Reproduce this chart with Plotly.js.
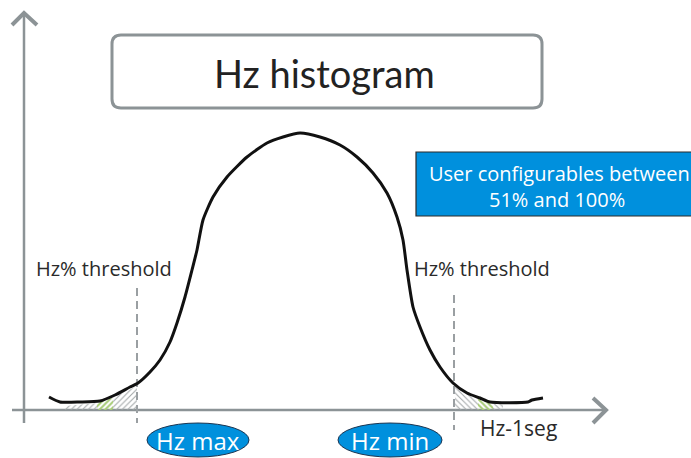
<!DOCTYPE html>
<html>
<head>
<meta charset="utf-8">
<script src="https://cdn.plot.ly/plotly-3.0.1.min.js"></script>
<style>html,body{margin:0;padding:0;background:#fff;}#chart{width:691px;height:458px;}</style>
</head>
<body>
<div id="chart"></div>
<script>
// ---- data (x along the frequency axis, y = height above the baseline) ----
const curveX = [49, 60, 80, 100, 115, 130, 138, 150, 160, 170, 177, 185, 192, 197, 203, 213, 227, 247, 267, 283, 300, 320, 340, 357, 373, 387, 397, 403, 407, 413, 420, 430, 440, 453, 467, 480, 490, 528, 532, 543];
const curveY = [13, 8, 8, 9, 15, 23, 27, 38, 50, 68, 87, 113, 140, 160, 190, 213, 233, 253, 267, 273, 277, 273, 265, 253, 237, 217, 193, 170, 140, 103, 83, 60, 43, 27, 17, 12, 8, 8, 10, 12];
const hatchLeftX = [65, 98, 112, 137, 137, 65];
const hatchLeftY = [4, 7, 12, 24, 0, 0];
const greenLeftX = [97, 113, 113, 97];
const greenLeftY = [8, 12, 0, 0];
const hatchRightX = [455, 455, 467, 480, 503, 503];
const hatchRightY = [0, 26, 16, 11, 5, 0];
const greenRightX = [478, 493, 493, 478];
const greenRightY = [11, 8, 0, 0];
const thresholdX = [137, 454];
const titleText = "Hz histogram";
const thresholdLabel = "Hz% threshold";
const markerLabels = ["Hz max", "Hz min"];
const markerX = [198, 390];
const axisLabel = "Hz-1seg";
const noteLines = ["User configurables between", "51% and 100%"];

// ---- helpers: py is a vertical position measured from the top ----
const BASE = 410;
const Y = py => BASE - py;
const FONT = "Lato, 'Open Sans', sans-serif";
const FONT2 = "'Open Sans', Lato, sans-serif";
const AX = '#8c9396';

function roundRect(x0, y0, x1, y1, r) {
  const a = Y(y0), b = Y(y1), ra = Y(y0 + r), rb = Y(y1 - r);
  return `M${x0 + r},${a} L${x1 - r},${a} Q${x1},${a} ${x1},${ra} L${x1},${rb} Q${x1},${b} ${x1 - r},${b} L${x0 + r},${b} Q${x0},${b} ${x0},${rb} L${x0},${ra} Q${x0},${a} ${x0 + r},${a} Z`;
}

const traces = [
  {x: hatchLeftX, y: hatchLeftY, type: 'scatter', mode: 'none', fill: 'toself',
   fillcolor: 'rgba(0,0,0,0)',
   fillpattern: {shape: '/', fgcolor: '#a0a4a6', bgcolor: 'rgba(255,255,255,0)', size: 4, solidity: 0.25},
   hoverinfo: 'skip'},
  {x: greenLeftX, y: greenLeftY, type: 'scatter', mode: 'none', fill: 'toself',
   fillcolor: 'rgba(0,0,0,0)',
   fillpattern: {shape: '/', fgcolor: '#a8d070', bgcolor: 'rgba(255,255,255,0)', size: 4, solidity: 0.45},
   hoverinfo: 'skip'},
  {x: hatchRightX, y: hatchRightY, type: 'scatter', mode: 'none', fill: 'toself',
   fillcolor: 'rgba(0,0,0,0)',
   fillpattern: {shape: '\\', fgcolor: '#a0a4a6', bgcolor: 'rgba(255,255,255,0)', size: 4, solidity: 0.25},
   hoverinfo: 'skip'},
  {x: greenRightX, y: greenRightY, type: 'scatter', mode: 'none', fill: 'toself',
   fillcolor: 'rgba(0,0,0,0)',
   fillpattern: {shape: '\\', fgcolor: '#a8d070', bgcolor: 'rgba(255,255,255,0)', size: 4, solidity: 0.45},
   hoverinfo: 'skip'},
  {x: curveX, y: curveY, type: 'scatter', mode: 'lines',
   line: {color: '#111', width: 3, shape: 'spline', smoothing: 0.6}, hoverinfo: 'skip'}
];

const shapes = [
  // y axis with arrow head
  {type: 'line', x0: 24, x1: 24, y0: Y(423), y1: Y(14), line: {color: AX, width: 2.5}, layer: 'below'},
  {type: 'path', path: `M12,${Y(25)} L24,${Y(13)} L37,${Y(25)}`, line: {color: AX, width: 4}, layer: 'below'},
  // x axis with arrow head
  {type: 'line', x0: 12, x1: 606, y0: 0, y1: 0, line: {color: AX, width: 2.5}, layer: 'below'},
  {type: 'path', path: `M593,${Y(398)} L606,${Y(410)} L593,${Y(423)}`, line: {color: AX, width: 4}, layer: 'below'},
  // threshold dashed lines
  {type: 'line', x0: thresholdX[0], x1: thresholdX[0], y0: Y(288), y1: Y(423), line: {color: '#9a9fa2', width: 2, dash: '8px,5px'}, layer: 'below'},
  {type: 'line', x0: thresholdX[1], x1: thresholdX[1], y0: Y(295), y1: Y(430), line: {color: '#9a9fa2', width: 2, dash: '8px,5px'}, layer: 'below'},
  // title box
  {type: 'path', path: roundRect(112, 35, 542, 108, 9), line: {color: AX, width: 3}, fillcolor: '#fff'},
  // blue note box
  {type: 'rect', x0: 416, x1: 700, y0: Y(152), y1: Y(216), fillcolor: '#0090dd', line: {color: '#2b2b2b', width: 1.2}},
  // ellipses
  {type: 'circle', x0: markerX[0] - 51, x1: markerX[0] + 51, y0: Y(423), y1: Y(457), fillcolor: '#0090dd', line: {color: '#1d3550', width: 1}},
  {type: 'circle', x0: markerX[1] - 52, x1: markerX[1] + 52, y0: Y(423), y1: Y(457), fillcolor: '#0090dd', line: {color: '#1d3550', width: 1}}
];

const annotations = [
  {x: 324, y: Y(73), text: titleText, showarrow: false, font: {family: FONT, size: 38, color: '#222'}},
  {x: 104, y: Y(268), text: thresholdLabel, showarrow: false, font: {family: FONT2, size: 20, color: '#2a2a2a'}},
  {x: 482, y: Y(268), text: thresholdLabel, showarrow: false, font: {family: FONT2, size: 20, color: '#2a2a2a'}},
  {x: 518, y: Y(428), text: axisLabel, showarrow: false, font: {family: FONT2, size: 21, color: '#2a2a2a'}},
  {x: 559, y: Y(173), text: noteLines[0], showarrow: false, font: {family: FONT2, size: 20, color: '#fff'}},
  {x: 557, y: Y(199), text: noteLines[1], showarrow: false, font: {family: FONT2, size: 20, color: '#fff'}},
  {x: markerX[0], y: Y(440), text: markerLabels[0], showarrow: false, font: {family: FONT2, size: 24, color: '#fff'}},
  {x: markerX[1], y: Y(440), text: markerLabels[1], showarrow: false, font: {family: FONT2, size: 24, color: '#fff'}}
];

const layout = {
  width: 691, height: 458,
  margin: {l: 0, r: 0, t: 0, b: 0},
  paper_bgcolor: '#fff', plot_bgcolor: '#fff',
  showlegend: false,
  xaxis: {range: [0, 691], visible: false, fixedrange: true},
  yaxis: {range: [Y(458), Y(0)], visible: false, fixedrange: true},
  shapes: shapes,
  annotations: annotations
};

Plotly.newPlot('chart', traces, layout, {displayModeBar: false, staticPlot: true});
</script>
</body>
</html>
